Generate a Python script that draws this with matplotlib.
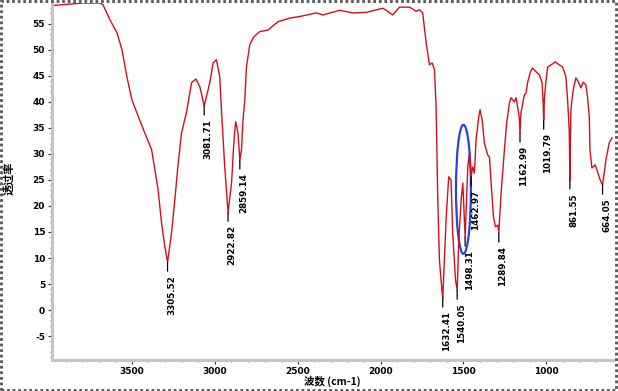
import numpy as np
import matplotlib
matplotlib.use("Agg")
import matplotlib.pyplot as plt
from matplotlib.patches import Ellipse, Rectangle

plt.rcParams['font.family'] = ['Noto Sans CJK SC', 'DejaVu Sans']

# Spectrum (wavenumber cm-1, transmittance %)
wavenumber = [3982, 3795, 3693, 3675, 3633, 3590, 3560, 3530, 3500, 3470, 3434, 3422,
              3381, 3361, 3342, 3321, 3301, 3285, 3261, 3241, 3223, 3201, 3170, 3140,
              3114, 3090, 3064, 3030, 3010, 2990, 2970, 2960, 2940, 2926, 2920, 2899,
              2884, 2874, 2860, 2849, 2839, 2830, 2819, 2809, 2789, 2765, 2729, 2679,
              2619, 2548, 2488, 2387, 2348, 2247, 2167, 2086, 1986, 1926, 1886, 1825,
              1785, 1765, 1746, 1725, 1705, 1689, 1675, 1665, 1655, 1645, 1629, 1625,
              1615, 1604, 1589, 1575, 1565, 1548, 1538, 1528, 1514, 1504, 1494, 1490,
              1474, 1464, 1454, 1444, 1434, 1424, 1408, 1400, 1387, 1374, 1354, 1343,
              1333, 1319, 1307, 1293, 1287, 1273, 1253, 1239, 1223, 1213, 1193, 1183,
              1173, 1163, 1159, 1153, 1133, 1123, 1113, 1096, 1083, 1062, 1042, 1026,
              1020, 1016, 1012, 1006, 992, 972, 946, 922, 902, 882, 872, 862, 858, 852,
              838, 822, 806, 792, 778, 762, 752, 741, 737, 725, 705, 691, 675, 661,
              651, 641, 621, 604]
transmittance = [58.5, 59.0, 59.0, 58.7, 55.8, 53.3, 50.0, 44.8, 40.4, 37.9, 35.0, 34.0,
                 30.8, 26.9, 23.1, 16.7, 12.1, 9.2, 14.8, 21.2, 27.5, 34.0, 38.1, 43.7,
                 44.4, 42.9, 39.2, 43.7, 47.5, 48.1, 44.8, 38.5, 27.5, 21.2, 18.8, 24.4,
                 32.7, 36.2, 34.0, 28.8, 30.8, 36.5, 40.4, 46.7, 51.0, 52.5, 53.5, 53.8,
                 55.4, 56.1, 56.4, 57.1, 56.7, 57.6, 57.1, 57.2, 58.0, 56.7, 58.2, 58.2,
                 57.4, 57.7, 57.1, 51.3, 47.1, 47.5, 46.2, 39.0, 21.2, 9.6, 3.5, 2.3,
                 9.6, 17.9, 25.6, 25.0, 14.8, 5.8, 3.8, 13.5, 21.2, 24.4, 16.7, 14.0,
                 27.5, 30.2, 25.6, 27.5, 26.3, 32.7, 37.1, 38.5, 36.5, 32.1, 29.8, 29.4,
                 24.4, 17.9, 16.0, 16.3, 14.8, 22.5, 30.8, 36.0, 39.8, 40.8, 40.0, 40.8,
                 39.0, 36.9, 34.0, 37.9, 41.3, 41.7, 43.7, 45.8, 46.5, 45.8, 45.2, 43.7,
                 40.4, 36.5, 40.4, 42.9, 46.7, 47.1, 47.7, 47.1, 46.7, 44.8, 40.4, 34.6,
                 25.0, 38.5, 42.3, 44.6, 43.8, 42.7, 43.8, 43.3, 41.0, 37.1, 30.8, 27.3,
                 27.9, 26.5, 25.0, 24.0, 26.3, 28.8, 32.1, 33.1]

# Peak annotations
peak_wn = [3285, 3064, 2920, 2849, 1625, 1538, 1490, 1454, 1287, 1159, 1016, 858, 661]
peak_labels = ["3305.52", "3081.71", "2922.82", "2859.14", "1632.41", "1540.05",
               "1498.31", "1462.97", "1289.84", "1162.99", "1019.79", "861.55", "664.05"]

x_ticks = [3500, 3000, 2500, 2000, 1500, 1000]
y_ticks = [55, 50, 45, 40, 35, 30, 25, 20, 15, 10, 5, 0, -5]

W, H = 618, 391
fig = plt.figure(figsize=(W / 100, H / 100), dpi=100)
ax = fig.add_axes([52 / W, (H - 360) / H, 561 / W, 357 / H])

ax.plot(wavenumber, transmittance, color='#d0101e', lw=1.0)
ax.set_xlim(3982, 598)
ax.set_ylim(-9.6, 59.0)

wn_arr = np.array(wavenumber)[::-1]
t_arr = np.array(transmittance)[::-1]
for wn, lab in zip(peak_wn, peak_labels):
    t = np.interp(wn, wn_arr, t_arr)
    ax.annotate('', xy=(wn, t), xytext=(0, -9), textcoords='offset pixels',
                xycoords='data',
                arrowprops=dict(arrowstyle='-', color='black', lw=0.9,
                                shrinkA=0, shrinkB=0))
    ax.annotate(lab, xy=(wn, t), xytext=(4, -13), textcoords='offset pixels',
                rotation=90, ha='center', va='top', fontsize=6.3,
                fontweight='bold', color='black', family='DejaVu Sans')

ell = Ellipse((1500, 23.2), 90, 24.8, fill=False, edgecolor='#2a44d6', lw=1.6)
ax.add_patch(ell)

ax.set_xticks(x_ticks)
ax.set_xticklabels([str(v) for v in x_ticks])
ax.set_xticks(np.arange(700, 3901, 100), minor=True)
ax.set_yticks(y_ticks)
ax.set_yticklabels([str(v) for v in y_ticks])
ax.set_yticks(np.arange(-9, 59, 1), minor=True)
for lab in ax.get_xticklabels() + ax.get_yticklabels():
    lab.set_fontweight('bold')
    lab.set_fontsize(6.5)
    lab.set_family('DejaVu Sans')
ax.tick_params(axis='both', which='major', length=3, width=0.8, color='#333333', pad=2)
ax.tick_params(axis='both', which='minor', length=1.5, width=0.6, color='#555555')

for s in ['top', 'right']:
    ax.spines[s].set_visible(False)
for s in ['left', 'bottom']:
    ax.spines[s].set_color('#c4c4c4')
    ax.spines[s].set_linewidth(2.2)

fig.text(332 / W, 1 - 381 / H, '波数 (cm-1)', ha='center', va='center',
         fontsize=7.5, fontweight='bold')
fig.text(9 / W, 1 - 178 / H, '透过率', rotation=90, ha='center', va='center',
         fontsize=8, fontweight='bold')

fig.patches.append(Rectangle((0.002, 0.003), 0.995, 0.994, transform=fig.transFigure,
                             fill=False, edgecolor='#555555', lw=2.0,
                             linestyle=(0, (1, 1))))

fig.savefig('out.png', dpi=100)
